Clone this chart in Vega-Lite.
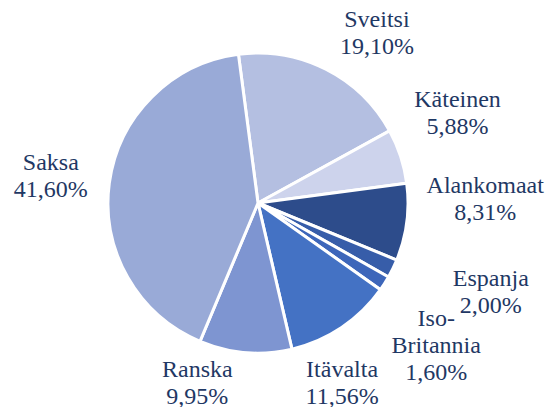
{
  "$schema": "https://vega.github.io/schema/vega-lite/v6.json",
  "width": 516,
  "height": 406,
  "autosize": "none",
  "padding": {"left": 0, "top": 0, "right": 40, "bottom": 1},
  "view": {"stroke": null},
  "background": "white",
  "data": {
    "values": [
      {"k": 1, "name": "Sveitsi", "value": 19.10, "label": "Sveitsi\n19,10%"},
      {"k": 2, "name": "Käteinen", "value": 5.88, "label": "Käteinen\n5,88%"},
      {"k": 3, "name": "Alankomaat", "value": 8.31, "label": "Alankomaat\n8,31%"},
      {"k": 4, "name": "Espanja", "value": 2.00, "label": "Espanja\n2,00%"},
      {"k": 5, "name": "Iso-Britannia", "value": 1.60, "label": "Iso-\nBritannia\n1,60%"},
      {"k": 6, "name": "Itävalta", "value": 11.56, "label": "Itävalta\n11,56%"},
      {"k": 7, "name": "Ranska", "value": 9.95, "label": "Ranska\n9,95%"},
      {"k": 8, "name": "Saksa", "value": 41.60, "label": "Saksa\n41,60%"}
    ]
  },
  "transform": [
    {"stack": "value", "groupby": [], "sort": [{"field": "k", "order": "ascending"}], "as": ["v0", "v1"]},
    {"calculate": "(datum.v0 + datum.v1) / 2", "as": "mid"}
  ],
  "layer": [
    {
      "mark": {"type": "arc", "outerRadius": 150, "stroke": "white", "strokeWidth": 3},
      "encoding": {
        "theta": {"field": "v0", "type": "quantitative", "scale": {"domain": [0, 100], "range": [-0.1309, 6.1523]}},
        "theta2": {"field": "v1"},
        "color": {
          "field": "name", "type": "nominal", "legend": null,
          "scale": {
            "domain": ["Sveitsi", "Käteinen", "Alankomaat", "Espanja", "Iso-Britannia", "Itävalta", "Ranska", "Saksa"],
            "range": ["#b4bfe1", "#cdd3ec", "#2d4c8b", "#375da9", "#3d66ba", "#4472c4", "#7e95d1", "#99aad7"]
          }
        }
      }
    },
    {
      "transform": [{"filter": "datum.name == 'Sveitsi'"}],
      "mark": {"type": "text", "radius": 210, "dx": 24, "dy": 4, "lineBreak": "\n", "font": "Liberation Serif", "fontSize": 24, "lineHeight": 27, "color": "#1f3864", "align": "center", "baseline": "middle"},
      "encoding": {"theta": {"field": "mid", "type": "quantitative"}, "text": {"field": "label"}}
    },
    {
      "transform": [{"filter": "datum.name == 'Käteinen'"}],
      "mark": {"type": "text", "radius": 210, "dx": 0, "dy": -38, "lineBreak": "\n", "font": "Liberation Serif", "fontSize": 24, "lineHeight": 27, "color": "#1f3864", "align": "center", "baseline": "middle"},
      "encoding": {"theta": {"field": "mid", "type": "quantitative"}, "text": {"field": "label"}}
    },
    {
      "transform": [{"filter": "datum.name == 'Alankomaat'"}],
      "mark": {"type": "text", "radius": 210, "dx": 19, "dy": -44, "lineBreak": "\n", "font": "Liberation Serif", "fontSize": 24, "lineHeight": 27, "color": "#1f3864", "align": "center", "baseline": "middle"},
      "encoding": {"theta": {"field": "mid", "type": "quantitative"}, "text": {"field": "label"}}
    },
    {
      "transform": [{"filter": "datum.name == 'Espanja'"}],
      "mark": {"type": "text", "radius": 210, "dx": 44, "dy": -16, "lineBreak": "\n", "font": "Liberation Serif", "fontSize": 24, "lineHeight": 27, "color": "#1f3864", "align": "center", "baseline": "middle"},
      "encoding": {"theta": {"field": "mid", "type": "quantitative"}, "text": {"field": "label"}}
    },
    {
      "transform": [{"filter": "datum.name == 'Iso-Britannia'"}],
      "mark": {"type": "text", "radius": 210, "dx": 1, "dy": 3, "lineBreak": "\n", "font": "Liberation Serif", "fontSize": 24, "lineHeight": 27, "color": "#1f3864", "align": "center", "baseline": "middle"},
      "encoding": {"theta": {"field": "mid", "type": "quantitative"}, "text": {"field": "label"}}
    },
    {
      "transform": [{"filter": "datum.name == 'Itävalta'"}],
      "mark": {"type": "text", "radius": 210, "dx": -33, "dy": -7, "lineBreak": "\n", "font": "Liberation Serif", "fontSize": 24, "lineHeight": 27, "color": "#1f3864", "align": "center", "baseline": "middle"},
      "encoding": {"theta": {"field": "mid", "type": "quantitative"}, "text": {"field": "label"}}
    },
    {
      "transform": [{"filter": "datum.name == 'Ranska'"}],
      "mark": {"type": "text", "radius": 210, "dx": -43, "dy": -42, "lineBreak": "\n", "font": "Liberation Serif", "fontSize": 24, "lineHeight": 27, "color": "#1f3864", "align": "center", "baseline": "middle"},
      "encoding": {"theta": {"field": "mid", "type": "quantitative"}, "text": {"field": "label"}}
    },
    {
      "transform": [{"filter": "datum.name == 'Saksa'"}],
      "mark": {"type": "text", "radius": 210, "dx": 1, "dy": -12, "lineBreak": "\n", "font": "Liberation Serif", "fontSize": 24, "lineHeight": 27, "color": "#1f3864", "align": "center", "baseline": "middle"},
      "encoding": {"theta": {"field": "mid", "type": "quantitative"}, "text": {"field": "label"}}
    }
  ]
}
